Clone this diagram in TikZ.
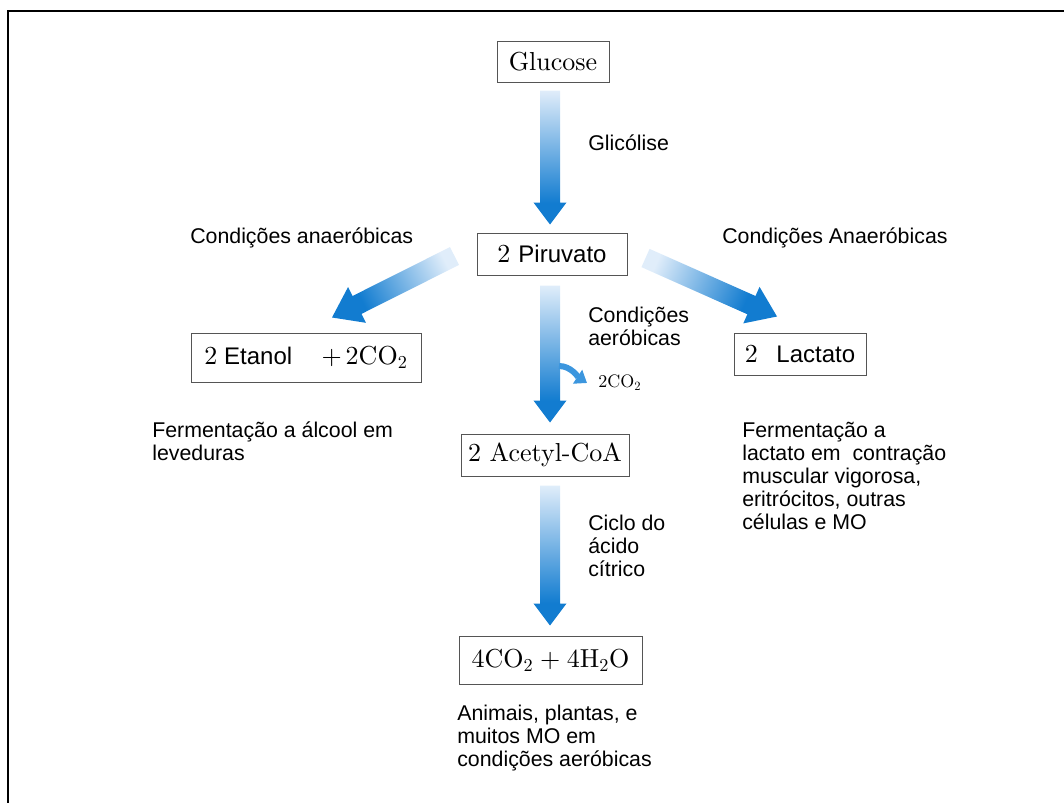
\documentclass[tikz,border=0pt]{standalone}
\usepackage{fontspec}
\usepackage{tikz}
\usetikzlibrary{calc,arrows.meta}
\newfontfamily\arial{Liberation Sans}
\newfontfamily\schoolbook{lmroman10-regular}[Extension=.otf]
\definecolor{arrowlight}{RGB}{224,237,250}
\definecolor{arrowmid}{RGB}{60,150,222}
\definecolor{arrowdark}{RGB}{18,124,208}
\definecolor{boxline}{RGB}{85,85,85}
\pgfdeclareverticalshading{fatshade}{100bp}{color(0bp)=(arrowdark); color(33bp)=(arrowdark); color(75bp)=(arrowlight); color(100bp)=(arrowlight)}
\newcommand{\sanstext}[1]{{\arial\fontsize{18}{20}\selectfont #1}}
\newcommand{\sub}[1]{\textsubscript{#1}}
% fat arrow: tail, tip, shading angle, head half width, head length
\newcommand{\fatarrow}[5]{%
  \coordinate (neck) at ($(#2)!#5!(#1)$);
  \shade[shading=fatshade, shading angle=#3]
    ($(#1)!7.5pt!90:(#2)$) -- ($(neck)!7.5pt!90:(#2)$) -- ($(neck)!#4!90:(#2)$)
    -- (#2) -- ($(neck)!#4!-90:(#2)$) -- ($(neck)!7.5pt!-90:(#2)$)
    -- ($(#1)!7.5pt!-90:(#2)$) -- cycle;
}
\tikzset{
  box/.style={draw=boxline, line width=0.75pt, inner sep=0pt, font=\schoolbook\fontsize{19.5}{22}\selectfont},
  lbl/.style={inner sep=0pt, align=left, font=\arial\fontsize{16}{17.25}\selectfont},
}

\begin{document}
\begin{tikzpicture}[x=0.75pt,y=0.75pt,yscale=-1,xscale=1]
\useasboundingbox (0,0) rectangle (1064,803);

%Frame
\draw[line width=1.5pt] (8,803) -- (8,11) -- (1064,11);

%Boxes
\node (glucose) [box, minimum width=84pt, minimum height=30.75pt] at (553,61.5) {Glucose};
\node (piruvato) [box, minimum width=112.5pt, minimum height=31.5pt] at (552,254) {2\hspace{6pt}\sanstext{Piruvato}};
\node (etanol) [box, minimum width=172.5pt, minimum height=36.75pt] at (306,357.5) {2\hspace{5pt}\sanstext{Etanol}\hspace{22pt}+\hspace{3pt}2CO\sub{2}};
\node (lactato) [box, minimum width=99pt, minimum height=31.5pt] at (800,354) {2\hspace{14pt}\sanstext{Lactato}};
\node (acetyl) [box, minimum width=126pt, minimum height=31.5pt] at (545,455) {2 Acetyl-CoA};
\node (final) [box, minimum width=137.25pt, minimum height=36pt] at (550.5,660) {4CO\sub{2}\hspace{5pt}+\hspace{5pt}4H\sub{2}O};

%Arrows
\coordinate (spine) at (550,0);
\coordinate (g1) at ($(spine |- glucose.south)+(0,8)$);
\coordinate (g2) at ($(spine |- piruvato.north)+(0,-8)$);
\coordinate (p1) at ($(spine |- piruvato.south)+(0,10)$);
\coordinate (p2) at ($(spine |- acetyl.north)+(0,-11)$);
\coordinate (a1) at ($(spine |- acetyl.south)+(0,9)$);
\coordinate (a2) at ($(spine |- final.north)+(0,-10)$);
\coordinate (l1) at ($(piruvato.west)+(-22,2)$);
\coordinate (l2) at ($(etanol.north)+(26,-15)$);
\coordinate (r1) at ($(piruvato.east)+(18,4)$);
\coordinate (r2) at ($(lactato.north)+(-23,-16)$);
\fatarrow{g1}{g2}{0}{12.4pt}{16.5pt}
\fatarrow{p1}{p2}{0}{12.4pt}{16.5pt}
\fatarrow{a1}{a2}{0}{12.4pt}{16.5pt}
\fatarrow{l1}{l2}{-63}{15pt}{21pt}
\fatarrow{r1}{r2}{66}{15pt}{21pt}

%Side product
\node (co2) [anchor=west, inner sep=0pt, font=\schoolbook\fontsize{13.5}{15}\selectfont] at (598,383) {2CO\sub{2}};
\coordinate (co2start) at (559,366);
\draw[arrowmid, line width=4.5pt, -{Triangle[length=8.5pt,width=12pt]}] (co2start) .. controls ($(co2start)+(12,0)$) and ($(co2.west)+(-20,-6)$) .. ($(co2.west)+(-11,0)$);

%Labels
\node (glicolise) [lbl, anchor=west] at (588,143) {Glicólise};
\node (anaerleft) [lbl, anchor=west] at (190,238) {Condições anaeróbicas};
\node (anaerright) [lbl, anchor=west] at (722,238) {Condições Anaeróbicas};
\node (aerob) [lbl, anchor=west] at (588,326) {Condições\\aeróbicas};
\node (ciclo) [lbl, anchor=west] at (588,546) {Ciclo do\\ácido\\cítrico};
\node (leveduras) [lbl, anchor=west] at (152,441) {Fermentação a álcool em\\leveduras};
\node (musculo) [lbl, anchor=west] at (742,476) {Fermentação a\\lactato em\ \ contração\\muscular vigorosa,\\eritrócitos, outras\\células e MO};
\node (animais) [lbl, anchor=west] at (457,738) {Animais, plantas, e\\muitos MO em\\condições aeróbicas};

\end{tikzpicture}
\end{document}
